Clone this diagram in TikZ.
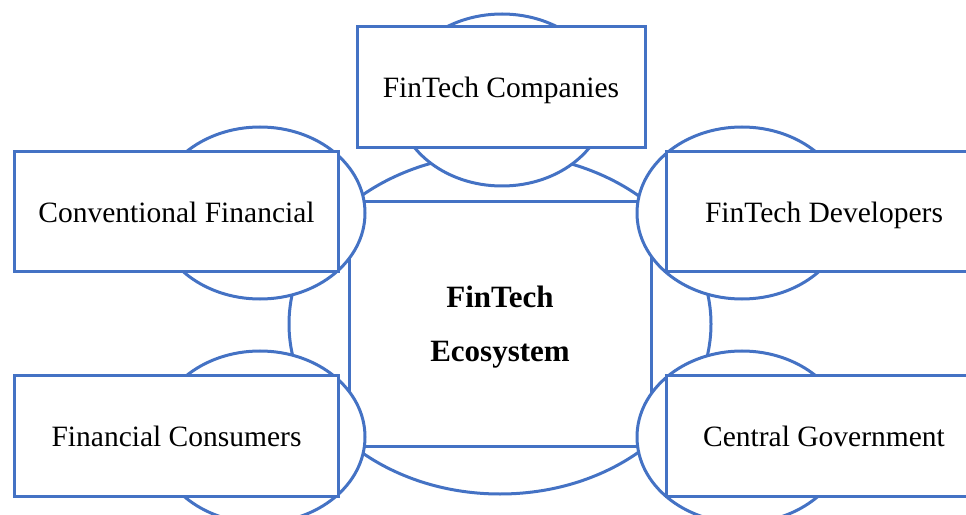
\documentclass[tikz,border=0pt]{standalone}
\usepackage{fontspec}
\setmainfont{Liberation Serif}
\usetikzlibrary{shapes.geometric}
\pgfdeclarelayer{ringlayer}
\pgfdeclarelayer{boxlayer}
\pgfsetlayers{ringlayer,boxlayer,main}
\definecolor{blue}{RGB}{68,114,196}
\tikzstyle{ring}=[ellipse, draw=blue, line width=3bp, fill=white, inner sep=0pt, minimum width=210bp, minimum height=172bp]
\tikzstyle{box}=[rectangle, draw=blue, line width=3bp, fill=white, inner sep=0pt, minimum height=120bp, text depth=0pt, font=\fontsize{29.5bp}{35bp}\selectfont]

\begin{document}
\begin{tikzpicture}[x=1bp, y=-1bp]
	\useasboundingbox (0,0) rectangle (966,515);
	\begin{pgfonlayer}{ringlayer}
		\node [ring, minimum width=422bp, minimum height=340bp] (0) at (500,324) {};
		\node [rectangle, draw=blue, line width=3bp, fill=white, inner sep=0pt, minimum width=302bp, minimum height=244bp, align=center, text depth=0pt, font=\fontsize{31bp}{54bp}\selectfont\bfseries] (1) at (500,324) {FinTech\\Ecosystem};
		\node [ring] (2) at (502,100) {};
		\node [ring] (3) at (260,213) {};
		\node [ring] (4) at (260,437) {};
		\node [ring] (5) at (742,213) {};
		\node [ring] (6) at (742,437) {};
	\end{pgfonlayer}
	\begin{pgfonlayer}{boxlayer}
		\node [box, minimum width=288bp, minimum height=121bp] (7) at (501,87.5) {FinTech Companies};
		\node [box, minimum width=323bp] (8) at (176.5,212) {Conventional Financial};
		\node [box, minimum width=323bp] (9) at (176.5,436) {Financial Consumers};
		\node [box, minimum width=316bp] (10) at (824,212) {FinTech Developers};
		\node [box, minimum width=316bp] (11) at (824,436) {Central Government};
	\end{pgfonlayer}
\end{tikzpicture}
\end{document}
